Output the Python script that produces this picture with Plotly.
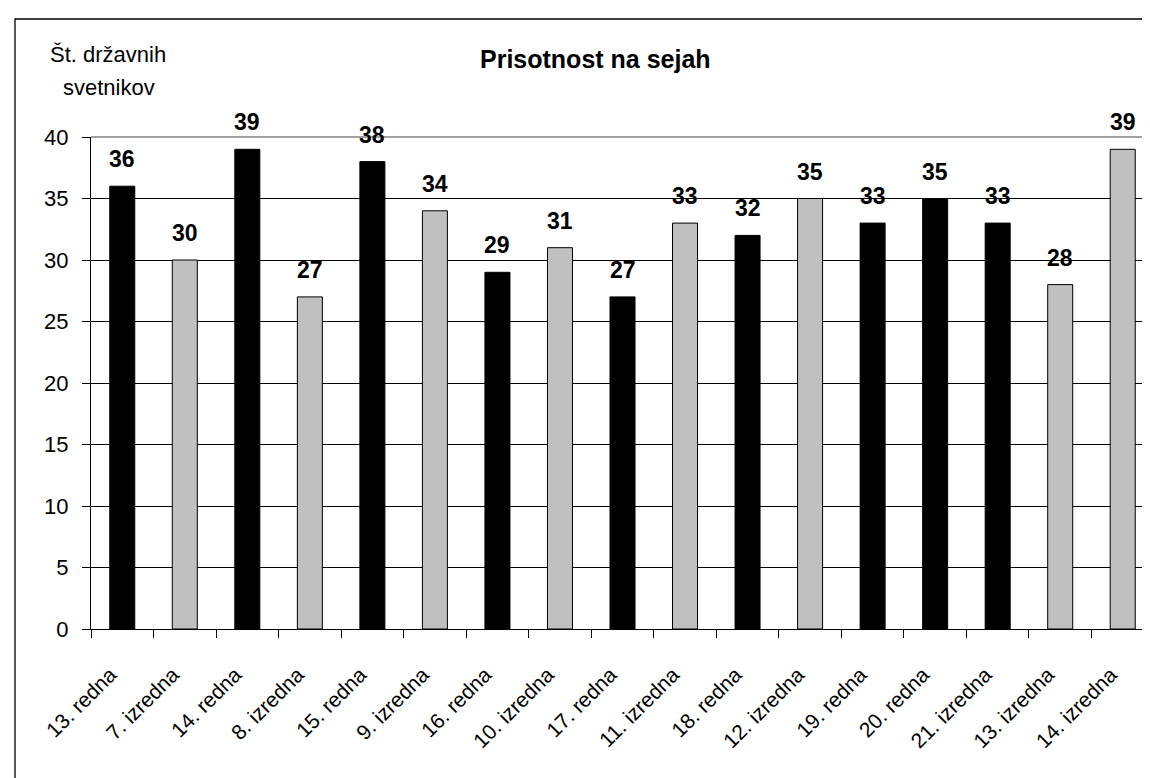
import plotly.graph_objects as go

categories = ["13. redna", "7. izredna", "14. redna", "8. izredna", "15. redna",
              "9. izredna", "16. redna", "10. izredna", "17. redna", "11. izredna",
              "18. redna", "12. izredna", "19. redna", "20. redna", "21. izredna",
              "13. izredna", "14. izredna"]
attendance = [36, 30, 39, 27, 38, 34, 29, 31, 27, 33, 32, 35, 33, 35, 33, 28, 39]
y_ticks = [0, 5, 10, 15, 20, 25, 30, 35, 40]

BLACK = "#000000"
GRAY = "#c0c0c0"
bar_colors = [BLACK, GRAY, BLACK, GRAY, BLACK, GRAY, BLACK, GRAY, BLACK, GRAY,
              BLACK, GRAY, BLACK, BLACK, BLACK, GRAY, GRAY]

FONT = "Liberation Sans, Arial, sans-serif"

W, H = 1150, 778
L, R, T, B = 83, 4, 129, 157
pw, ph = W - L - R, H - T - B


def px_x(x):
    return (x - L) / pw


def px_y(y):
    return 1 - (y - T) / ph


fig = go.Figure()
fig.add_trace(go.Bar(
    x=categories, y=attendance,
    marker=dict(color=bar_colors, line=dict(color="black", width=1)),
    hoverinfo="skip",
))

annotations = []
for c, v in zip(categories, attendance):
    annotations.append(dict(
        x=c, y=v, xref="x", yref="y", text=f"<b>{v}</b>", showarrow=False,
        yanchor="middle", yshift=27, font=dict(family=FONT, size=23, color="black"),
    ))

annotations += [
    dict(x=px_x(587), y=px_y(51), xref="paper", yref="paper", text="<b>Prisotnost na sejah</b>",
         showarrow=False, xanchor="center", yanchor="middle",
         font=dict(family=FONT, size=25, color="black")),
    dict(x=px_x(100), y=px_y(47), xref="paper", yref="paper", text="Št. državnih",
         showarrow=False, xanchor="center", yanchor="middle",
         font=dict(family=FONT, size=22, color="black")),
    dict(x=px_x(101), y=px_y(79), xref="paper", yref="paper", text="svetnikov",
         showarrow=False, xanchor="center", yanchor="middle",
         font=dict(family=FONT, size=22, color="black")),
]

shapes = [
    # outer chart border (right and bottom edges fall outside the picture)
    dict(type="rect", xref="paper", yref="paper",
         x0=px_x(7), x1=px_x(1153), y0=px_y(781), y1=px_y(11),
         line=dict(color="black", width=1.3), layer="below"),
    # gray plot-area border on top and right
    dict(type="line", xref="paper", yref="paper", x0=0, x1=1, y0=1, y1=1,
         line=dict(color="#808080", width=1.3)),
    dict(type="line", xref="paper", yref="paper", x0=1, x1=1, y0=0, y1=1,
         line=dict(color="#808080", width=1.3)),
]

fig.update_layout(
    width=W, height=H,
    margin=dict(l=L, r=R, t=T, b=B, pad=0),
    paper_bgcolor="white", plot_bgcolor="white",
    showlegend=False,
    bargap=0.6,
    font=dict(family=FONT, size=22, color="black"),
    annotations=annotations,
    shapes=shapes,
    xaxis=dict(
        type="category", tickangle=-45, tickson="boundaries",
        ticks="outside", ticklen=8, tickcolor="black", tickwidth=1,
        ticklabelstandoff=24, ticklabelshift=-12,
        showline=True, linecolor="black", linewidth=1,
        showgrid=False, tickfont=dict(family=FONT, size=21, color="black"),
    ),
    yaxis=dict(
        range=[0, 40], tickvals=y_ticks, ticks="outside", ticklen=8,
        tickcolor="black", tickwidth=1, ticklabelstandoff=9,
        showline=True, linecolor="black", linewidth=1,
        showgrid=True, gridcolor="black", gridwidth=1,
        zeroline=False, tickfont=dict(family=FONT, size=22, color="black"),
    ),
)

fig.write_html("out.html")
